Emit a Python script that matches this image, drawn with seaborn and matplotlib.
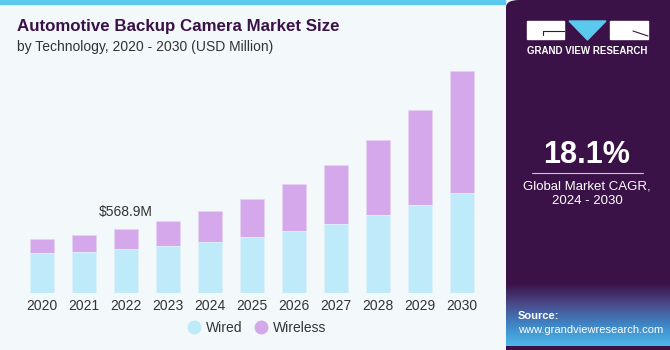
import numpy as np
import pandas as pd
import matplotlib
matplotlib.use("Agg")
import matplotlib.pyplot as plt
import seaborn as sns
from matplotlib.patches import Rectangle, Polygon, FancyBboxPatch
from matplotlib.lines import Line2D

# Chart data (USD Million)
years = ["2020", "2021", "2022", "2023", "2024", "2025", "2026", "2027", "2028", "2029", "2030"]
wired = [358, 367, 394, 420, 456, 498, 551, 616, 691, 782, 889]
wireless = [122, 148, 175, 220, 273, 338, 418, 525, 667, 845, 1085]
highlight_year = "2022"
highlight_label = "$568.9M"

title = "Automotive Backup Camera Market Size"
subtitle = "by Technology, 2020 - 2030 (USD Million)"
cagr_value = "18.1%"
cagr_text = "Global Market CAGR,\n2024 - 2030"

# Colours
bg = "#f3f8fb"
wired_col = "#bfeaf9"
wireless_col = "#d4a8ea"
dark_purple = "#3a1248"
text_col = "#333333"

sns.set_theme(style="white")
plt.rcParams["font.family"] = ["Liberation Sans", "DejaVu Sans"]

W, H = 670, 350
fig = plt.figure(figsize=(6.7, 3.5), dpi=100)
fig.patch.set_facecolor(bg)


def fx(x):
    return x / W


def fy(y):
    return 1 - y / H


df = pd.DataFrame({"year": years, "wired": wired, "wireless": wireless})
df["total"] = df["wired"] + df["wireless"]

# bar axes
ax = fig.add_axes([fx(21), fy(293), fx(483) - fx(21), fy(60) - fy(293)])
ax.set_facecolor(bg)
sns.barplot(data=df, x="year", y="total", color=wireless_col, width=0.555,
            saturation=1, edgecolor="#e6d2f2", linewidth=0.6, ax=ax)
sns.barplot(data=df, x="year", y="wired", color=wired_col, width=0.555,
            saturation=1, edgecolor="#dff4fc", linewidth=0.6, ax=ax)
ax.set_xlim(-0.5, len(years) - 0.5)
ax.set_ylim(0, 2071)
ax.set_xlabel("")
ax.set_ylabel("")
ax.set_yticks([])
ax.tick_params(axis="x", length=0, pad=4, labelsize=10, labelcolor=text_col)
for s in ax.spines.values():
    s.set_visible(False)

hi = years.index(highlight_year)
ax.text(hi, df["total"][hi] + 90, highlight_label, ha="center", va="bottom",
        fontsize=10, color=text_col)

# legend
handles = [Line2D([], [], marker="o", ls="", markersize=9, color=wired_col),
           Line2D([], [], marker="o", ls="", markersize=9, color=wireless_col)]
fig.legend(handles, ["Wired", "Wireless"], loc="center", ncol=2,
           bbox_to_anchor=(fx(256), fy(328)), frameon=False, fontsize=10,
           handletextpad=0.25, columnspacing=0.8, handlelength=1.2,
           labelcolor=text_col)

# title block
fig.text(fx(17), fy(27), title, fontsize=12.2, fontweight="bold", color=dark_purple,
         va="center", ha="left")
fig.text(fx(17), fy(47), subtitle, fontsize=10, color=text_col, va="center", ha="left")

# top stripe
fig.patches.append(Rectangle((0, fy(4)), fx(505), fy(0) - fy(4), transform=fig.transFigure,
                             color="#5bc8ee", zorder=0))

# right panel
panel = FancyBboxPatch((fx(506), fy(360)), fx(700) - fx(506), fy(0) - fy(360),
                       boxstyle="round,pad=0,rounding_size=0.02",
                       transform=fig.transFigure, facecolor=dark_purple,
                       edgecolor="none", zorder=1)
fig.patches.append(panel)

# gradient source area
gax = fig.add_axes([fx(506), fy(346), fx(670) - fx(506), fy(284) - fy(346)])
gax.set_zorder(2)
grad = np.linspace(0, 1, 100)[:, None] * np.ones((1, 10))
cmap = matplotlib.colors.LinearSegmentedColormap.from_list(
    "src", [dark_purple, "#4a4a8a", "#3f86c6", "#4db8ea"])
gax.imshow(grad, aspect="auto", cmap=cmap, extent=[0, 1, 0, 1], origin="upper")
gax.set_axis_off()

# logo
logo_col = "white"
fig.patches.append(Rectangle((fx(527), fy(39)), fx(37), fy(21) - fy(39),
                             transform=fig.transFigure, color=logo_col, zorder=3))
fig.patches.append(Rectangle((fx(610), fy(39)), fx(38), fy(21) - fy(39),
                             transform=fig.transFigure, color=logo_col, zorder=3))
fig.patches.append(Polygon([(fx(569), fy(21)), (fx(606), fy(21)), (fx(587.5), fy(40))],
                           closed=True, transform=fig.transFigure, color="#5bc8ee", zorder=3))
fig.lines.append(Line2D([fx(543), fx(564)], [fy(31), fy(31)], transform=fig.transFigure,
                        color=dark_purple, lw=0.8, zorder=4))
fig.lines.append(Line2D([fx(543), fx(543)], [fy(31), fy(35)], transform=fig.transFigure,
                        color=dark_purple, lw=0.8, zorder=4))
fig.lines.append(Line2D([fx(633), fx(648)], [fy(31), fy(36)], transform=fig.transFigure,
                        color=dark_purple, lw=0.8, zorder=4))
fig.text(fx(587), fy(51), "GRAND VIEW RESEARCH", fontsize=7, fontweight="bold",
         color="white", ha="center", va="center", zorder=5)

# CAGR
fig.text(fx(587), fy(155), cagr_value, fontsize=22, fontweight="bold",
         color="white", ha="center", va="center", zorder=5)
fig.lines.append(Line2D([fx(532), fx(643)], [fy(173), fy(173)], transform=fig.transFigure,
                        color="#cfc3d8", lw=0.8, zorder=4))
fig.text(fx(587), fy(194), cagr_text, fontsize=9.5, color="white",
         ha="center", va="center", linespacing=1.25, zorder=5)

# source
fig.text(fx(518), fy(316), "Source:", fontsize=8, fontweight="bold",
         color="white", ha="left", va="center", zorder=5)
fig.text(fx(518), fy(330), "www.grandviewresearch.com", fontsize=8,
         color="white", ha="left", va="center", zorder=5)

fig.savefig("out.png", dpi=100, facecolor=fig.get_facecolor())
